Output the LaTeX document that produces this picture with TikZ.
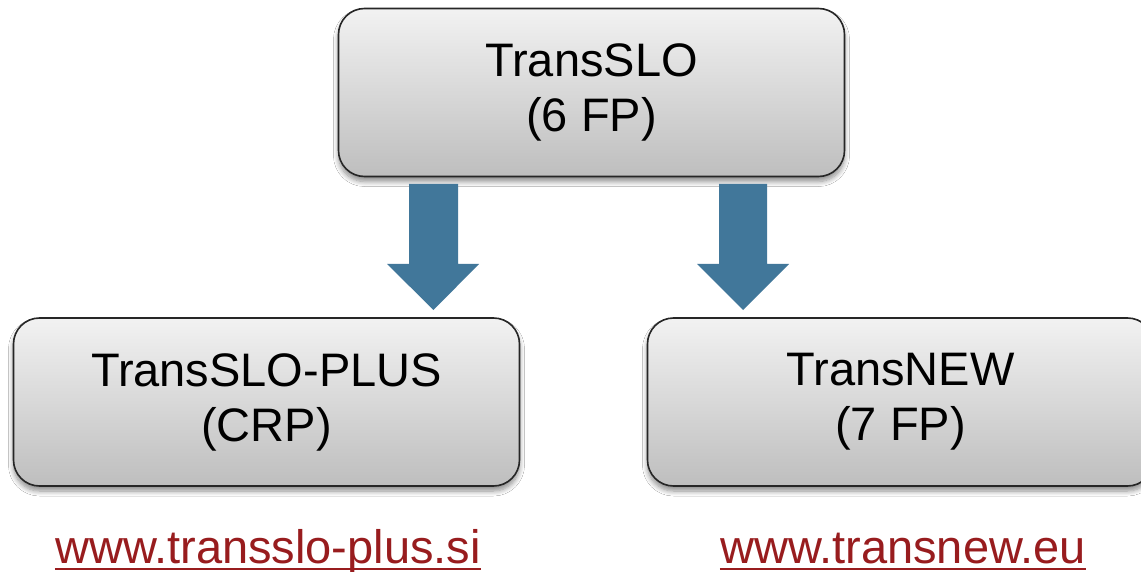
\documentclass[tikz,border=0pt]{standalone}
\usepackage{fontspec}
\setmainfont{Liberation Sans}
\usetikzlibrary{shadows.blur,calc}
\definecolor{arrowblue}{RGB}{65,119,154}
\definecolor{linkred}{RGB}{152,28,30}
\definecolor{boxtop}{RGB}{242,242,242}
\definecolor{boxbot}{RGB}{190,190,190}
\tikzset{
  gbox/.style={draw=black!85, line width=1.6pt, rounded corners=26pt,
    top color=boxtop, bottom color=boxbot,
    minimum width=506pt, minimum height=168pt, align=center,
    font=\fontsize{47}{55}\selectfont,
    blur shadow={shadow xshift=0pt, shadow yshift=-5pt, shadow blur steps=8, shadow blur radius=5pt, shadow opacity=45}},
  blockarrow/.style={fill=arrowblue, draw=none},
  link/.style={text=linkred, inner sep=0pt, anchor=base, font=\fontsize{47}{55}\selectfont},
  uline/.style={draw=linkred, line width=2.5pt}
}
\begin{document}
\begin{tikzpicture}[x=1pt,y=-1pt]
\useasboundingbox[fill=white] (0,0) rectangle (1141,572);
\node[gbox] (top) at (591.5,92.5) {TransSLO\\(6 FP)};
\node[gbox] (left) at (266.5,402) {TransSLO-PLUS\\(CRP)};
\node[gbox] (right) at (900.5,402) {TransNEW\\(7 FP)};
% block arrows
\fill[blockarrow] (409,184) -- (458,184) -- (458,264) -- (479,264) -- (433.5,310) -- (387,264) -- (409,264) -- cycle;
\fill[blockarrow] (719,184) -- (767,184) -- (767,264) -- (789,264) -- (743,310) -- (697,264) -- (719,264) -- cycle;
% links
\node[link] (l1) at (268,563) {www.transslo-plus.si};
\node[link] (l2) at (903,563) {www.transnew.eu};
\draw[uline] ([yshift=-6pt]l1.base west) -- ([yshift=-6pt]l1.base east);
\draw[uline] ([yshift=-6pt]l2.base west) -- ([yshift=-6pt]l2.base east);
\end{tikzpicture}
\end{document}
